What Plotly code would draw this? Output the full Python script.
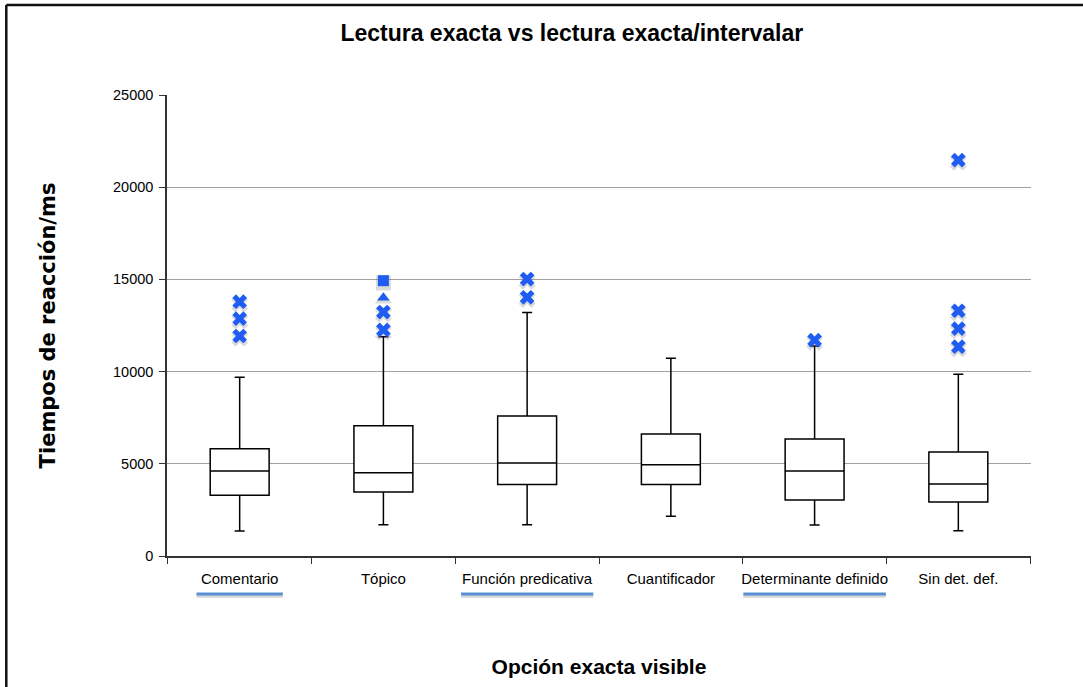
import plotly.graph_objects as go

# Reaction time summaries per category (ms)
categories = ["Comentario", "Tópico", "Función predicativa", "Cuantificador",
              "Determinante definido", "Sin det. def."]
lower_fence = [1360, 1700, 1700, 2150, 1680, 1370]
q1 = [3290, 3470, 3880, 3880, 3040, 2930]
median = [4610, 4520, 5040, 4950, 4610, 3900]
q3 = [5820, 7070, 7590, 6620, 6340, 5640]
upper_fence = [9690, 11890, 13200, 10720, 11390, 9850]

# Outliers drawn as crosses (category, value)
outlier_cat = ["Comentario", "Comentario", "Comentario",
               "Tópico", "Tópico",
               "Función predicativa", "Función predicativa",
               "Determinante definido",
               "Sin det. def.", "Sin det. def.", "Sin det. def.", "Sin det. def."]
outlier_val = [13790, 12870, 11930,
               13230, 12260,
               15020, 14030,
               11710,
               21470, 13300, 12330, 11350]
# Extreme points for Tópico with their own symbols
extreme_cat = ["Tópico", "Tópico"]
extreme_val = [14930, 14010]
extreme_sym = ["square", "triangle-up"]

y_ticks = [0, 5000, 10000, 15000, 20000, 25000]
y_ticktext = [str(v) for v in y_ticks]

underlined = ["Comentario", "Función predicativa", "Determinante definido"]

SANS = "Liberation Sans, Arial, sans-serif"
BLUE = "#1f5cf2"

fig = go.Figure()

fig.add_trace(go.Box(
    x=categories,
    q1=q1, median=median, q3=q3,
    lowerfence=lower_fence, upperfence=upper_fence,
    fillcolor="white",
    line=dict(color="black", width=1.5),
    whiskerwidth=0.17,
    width=0.41,
    boxpoints=False,
    showlegend=False,
    hoverinfo="skip",
))

# soft drop shadow behind the outlier markers
fig.add_trace(go.Scatter(
    x=outlier_cat + extreme_cat, y=[v - 120 for v in outlier_val + extreme_val],
    mode="markers",
    marker=dict(symbol=["x"] * len(outlier_val) + extreme_sym, size=15,
                color="rgba(90,90,90,0.22)", line=dict(width=0)),
    showlegend=False, hoverinfo="skip",
))
fig.add_trace(go.Scatter(
    x=outlier_cat, y=outlier_val, mode="markers",
    marker=dict(symbol="x", size=13, color=BLUE, line=dict(width=0)),
    showlegend=False,
))
fig.add_trace(go.Scatter(
    x=extreme_cat, y=extreme_val, mode="markers",
    marker=dict(symbol=extreme_sym, size=11, color=BLUE, line=dict(width=0)),
    showlegend=False,
))

# blue underlines below selected category labels
for cat in underlined:
    i = categories.index(cat)
    half = 0.122 + 0.0178 * len(cat)
    fig.add_shape(type="line", xref="x", yref="paper",
                  x0=i - half, x1=i + half, y0=-0.086, y1=-0.086,
                  line=dict(color="rgba(120,120,120,0.30)", width=4))
    fig.add_shape(type="line", xref="x", yref="paper",
                  x0=i - half, x1=i + half, y0=-0.0824, y1=-0.0824,
                  line=dict(color="#5b8fd6", width=3))

# frame around the chart
fig.add_shape(type="line", xref="paper", yref="paper",
              x0=-0.186, x1=1.07, y0=1.195, y1=1.195,
              line=dict(color="#111", width=2.5))
fig.add_shape(type="line", xref="paper", yref="paper",
              x0=-0.186, x1=-0.186, y0=1.195, y1=-0.3,
              line=dict(color="#111", width=2.5))

fig.update_layout(
    width=1083, height=687,
    margin=dict(l=167, r=52, t=95, b=131, autoexpand=False),
    paper_bgcolor="white", plot_bgcolor="white",
    title=dict(text="<b>Lectura exacta vs lectura exacta/intervalar</b>",
               xref="container", x=0.528, xanchor="center",
               yref="container", y=0.952, yanchor="middle",
               font=dict(family=SANS, size=23, color="black")),
    xaxis=dict(
        categoryorder="array", categoryarray=categories,
        showline=True, linecolor="#333", linewidth=1.5,
        ticks="outside", tickson="boundaries", ticklen=6, tickcolor="#333",
        tickangle=0, ticklabelstandoff=8,
        tickfont=dict(family=SANS, size=15, color="black"),
        showgrid=False, zeroline=False,
        title=dict(text="<b>Opción exacta visible</b>",
                   font=dict(family=SANS, size=21, color="black"),
                   standoff=74),
        automargin=False,
    ),
    yaxis=dict(
        range=[0, 25000], tickvals=y_ticks, ticktext=y_ticktext,
        showline=True, linecolor="#333", linewidth=1.5,
        ticks="outside", ticklen=6, tickcolor="#333",
        ticklabelstandoff=3,
        tickfont=dict(family=SANS, size=14.5, color="black"),
        showgrid=True, gridcolor="#a0a0a0", gridwidth=1,
        zeroline=False,
        title=dict(text="<b>Tiempos de reacción/ms</b>",
                   font=dict(family="DejaVu Sans, sans-serif", size=21, color="black"),
                   standoff=52),
        automargin=False,
    ),
)

fig.write_html("out.html")
